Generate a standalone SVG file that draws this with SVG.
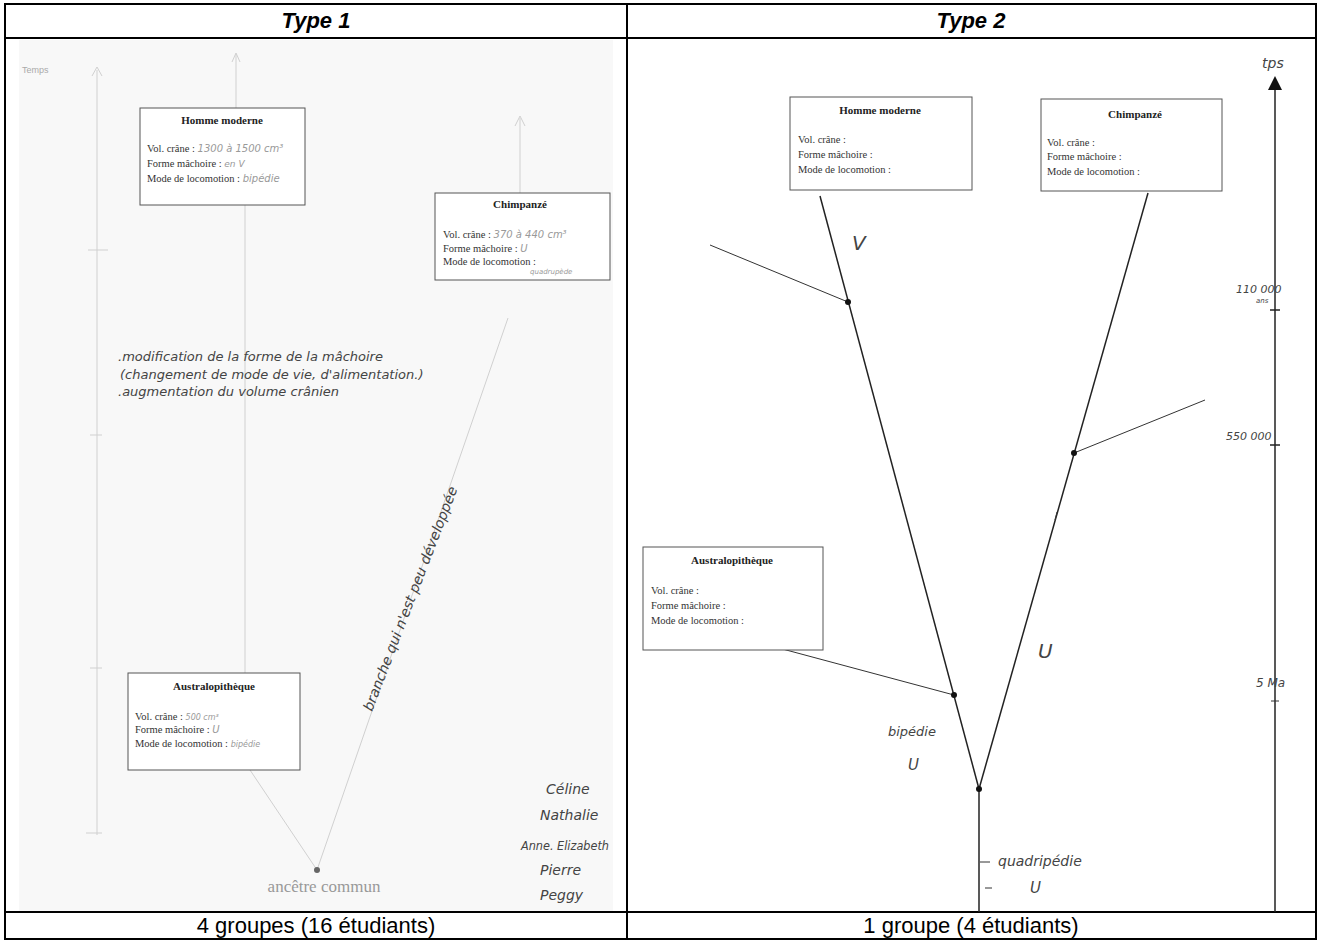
<svg xmlns="http://www.w3.org/2000/svg" width="1321" height="944" viewBox="0 0 1321 944">
<style>
.hdr{font-family:"Liberation Sans",Arial,sans-serif;font-weight:bold;font-style:italic;font-size:22px;text-anchor:middle;fill:#000}
.ftr{font-family:"Liberation Sans",Arial,sans-serif;font-size:22px;text-anchor:middle;fill:#000}
.box{fill:#fff;stroke:#555;stroke-width:1}
.ttl{font-family:"Liberation Serif","Times New Roman",serif;font-weight:bold;font-size:11px;text-anchor:middle;fill:#222}
.fld{font-family:"Liberation Serif","Times New Roman",serif;font-size:10.5px;fill:#333}
.hw{font-family:"DejaVu Sans",sans-serif;font-style:italic;font-weight:200;fill:#444}
.hwl{font-family:"DejaVu Sans",sans-serif;font-style:italic;fill:#999}
.faint{stroke:#d0d0d0;stroke-width:1;fill:none}
.ink{stroke:#222;stroke-width:1.5;fill:none}
.thin{stroke:#333;stroke-width:1;fill:none}
</style>
<rect x="0" y="0" width="1321" height="944" fill="#fff"/>
<rect x="19" y="40" width="594" height="871" fill="#f8f8f8"/>

<g id="table" fill="none" stroke="#000" stroke-width="2">
<rect x="5" y="4" width="1311" height="935"/>
<line x1="5" y1="38" x2="1316" y2="38"/>
<line x1="5" y1="912" x2="1316" y2="912"/>
<line x1="627" y1="4" x2="627" y2="939"/>
</g>
<text class="hdr" x="316" y="28">Type 1</text>
<text class="hdr" x="971" y="28">Type 2</text>
<text class="ftr" x="316" y="933">4 groupes (16 étudiants)</text>
<text class="ftr" x="971" y="933">1 groupe (4 étudiants)</text>

<g id="left-connectors">
<line class="faint" x1="97" y1="70" x2="97" y2="835"/>
<path class="faint" d="M92,76 L97,67 L102,76"/>
<line class="faint" x1="88" y1="250" x2="108" y2="250"/>
<line class="faint" x1="90" y1="435" x2="102" y2="435"/>
<line class="faint" x1="90" y1="668" x2="102" y2="668"/>
<line class="faint" x1="86" y1="833" x2="102" y2="833"/>
<line class="faint" x1="236" y1="54" x2="236" y2="108"/>
<path class="faint" d="M232,62 L236,53 L240,62"/>
<line class="faint" x1="245" y1="205" x2="245" y2="673"/>
<line class="faint" x1="250" y1="770" x2="317" y2="870"/>
<line class="faint" x1="520" y1="118" x2="520" y2="193"/>
<path class="faint" d="M515,126 L520,116 L525,126"/>
<line class="faint" x1="508" y1="318" x2="317" y2="870"/>
</g>
<text x="22" y="73" font-family="Liberation Sans,sans-serif" font-size="9" fill="#aaa">Temps</text>

<g id="l-homme">
<rect class="box" x="140" y="108" width="165" height="97"/>
<text class="ttl" x="222" y="124">Homme moderne</text>
<text class="fld" x="147" y="152">Vol. crâne : <tspan class="hwl" font-size="10">1300 à 1500 cm³</tspan></text>
<text class="fld" x="147" y="167">Forme mâchoire : <tspan class="hwl" font-size="9">en V</tspan></text>
<text class="fld" x="147" y="182">Mode de locomotion : <tspan class="hwl" font-size="10">bipédie</tspan></text>
</g>
<g id="l-chimp">
<rect class="box" x="435" y="193" width="175" height="87"/>
<text class="ttl" x="520" y="208">Chimpanzé</text>
<text class="fld" x="443" y="238">Vol. crâne : <tspan class="hwl" font-size="10">370 à 440 cm³</tspan></text>
<text class="fld" x="443" y="252">Forme mâchoire :   <tspan class="hwl" font-size="10">U</tspan></text>
<text class="fld" x="443" y="265">Mode de locomotion :</text>
<text class="hwl" x="530" y="274" font-size="7">quadrupède</text>
</g>
<g id="l-austra">
<rect class="box" x="128" y="673" width="172" height="97"/>
<text class="ttl" x="214" y="690">Australopithèque</text>
<text class="fld" x="135" y="720">Vol. crâne :  <tspan class="hwl" font-size="8">500 cm³</tspan></text>
<text class="fld" x="135" y="733">Forme mâchoire :  <tspan class="hwl" font-size="10">U</tspan></text>
<text class="fld" x="135" y="747">Mode de locomotion : <tspan class="hwl" font-size="8">bipédie</tspan></text>
</g>
<g id="l-ancetre">
<circle cx="317" cy="870" r="3" fill="#666"/>
<text x="324" y="892" font-family="Liberation Serif,serif" font-size="17" fill="#999" text-anchor="middle">ancêtre commun</text>
</g>
<g id="l-notes">
<text class="hw" x="118" y="361" font-size="13">.modification de la forme de la mâchoire</text>
<text class="hw" x="120" y="379" font-size="13">(changement de mode de vie, d'alimentation.)</text>
<text class="hw" x="118" y="396" font-size="13">.augmentation du volume crânien</text>
<text class="hw" font-size="14" transform="translate(372,712) rotate(-69)">branche qui n'est peu développée</text>
<text class="hw" x="546" y="794" font-size="14">Céline</text>
<text class="hw" x="540" y="820" font-size="14">Nathalie</text>
<text class="hw" x="521" y="850" font-size="13" textLength="88" lengthAdjust="spacingAndGlyphs">Anne. Elizabeth</text>
<text class="hw" x="540" y="875" font-size="14">Pierre</text>
<text class="hw" x="540" y="900" font-size="14">Peggy</text>
</g>

<g id="right-connectors">
<line class="ink" x1="1275" y1="88" x2="1275" y2="912"/>
<path d="M1268,90 L1275,76 L1282,90 Z" fill="#111"/>
<line class="ink" x1="1270" y1="310" x2="1280" y2="310"/>
<line class="ink" x1="1270" y1="445" x2="1280" y2="445"/>
<line class="thin" x1="1271" y1="701" x2="1279" y2="701"/>
<line class="ink" x1="979" y1="789" x2="820" y2="196"/>
<line class="ink" x1="979" y1="789" x2="1148" y2="193"/>
<line class="ink" x1="979" y1="789" x2="979" y2="912"/>
<line class="thin" x1="848" y1="302" x2="710" y2="245"/>
<line class="thin" x1="1074" y1="453" x2="1205" y2="400"/>
<line class="thin" x1="954" y1="695" x2="775" y2="647"/>
<line class="thin" x1="980" y1="862" x2="990" y2="862"/>
<line class="thin" x1="985" y1="888" x2="992" y2="888"/>
<line class="thin" x1="1057" y1="512" x2="1055" y2="520"/>
</g>
<g fill="#111">
<circle cx="848" cy="302" r="3"/>
<circle cx="1074" cy="453" r="3"/>
<circle cx="954" cy="695" r="3"/>
<circle cx="979" cy="789" r="3"/>
</g>
<text class="hw" x="1262" y="68" font-size="14">tps</text>
<text class="hw" x="1236" y="293" font-size="11">110 000</text>
<text class="hw" x="1256" y="303" font-size="7">ans</text>
<text class="hw" x="1226" y="440" font-size="11">550 000</text>
<text class="hw" x="1256" y="687" font-size="12">5 Ma</text>

<g id="r-homme">
<rect class="box" x="790" y="97" width="182" height="93"/>
<text class="ttl" x="880" y="114">Homme moderne</text>
<text class="fld" x="798" y="143">Vol. crâne :</text>
<text class="fld" x="798" y="158">Forme mâchoire :</text>
<text class="fld" x="798" y="173">Mode de locomotion :</text>
</g>
<g id="r-chimp">
<rect class="box" x="1041" y="99" width="181" height="92"/>
<text class="ttl" x="1135" y="118">Chimpanzé</text>
<text class="fld" x="1047" y="146">Vol. crâne :</text>
<text class="fld" x="1047" y="160">Forme mâchoire :</text>
<text class="fld" x="1047" y="175">Mode de locomotion :</text>
</g>
<g id="r-austra">
<rect class="box" x="643" y="547" width="180" height="103"/>
<text class="ttl" x="732" y="564">Australopithèque</text>
<text class="fld" x="651" y="594">Vol. crâne :</text>
<text class="fld" x="651" y="609">Forme mâchoire :</text>
<text class="fld" x="651" y="624">Mode de locomotion :</text>
</g>
<g id="r-notes">
<text class="hw" x="852" y="250" font-size="20">V</text>
<text class="hw" x="1038" y="658" font-size="20">U</text>
<text class="hw" x="888" y="736" font-size="13">bipédie</text>
<text class="hw" x="908" y="770" font-size="15">U</text>
<text class="hw" x="998" y="866" font-size="14">quadripédie</text>
<text class="hw" x="1030" y="893" font-size="15">U</text>
</g>
</svg>
